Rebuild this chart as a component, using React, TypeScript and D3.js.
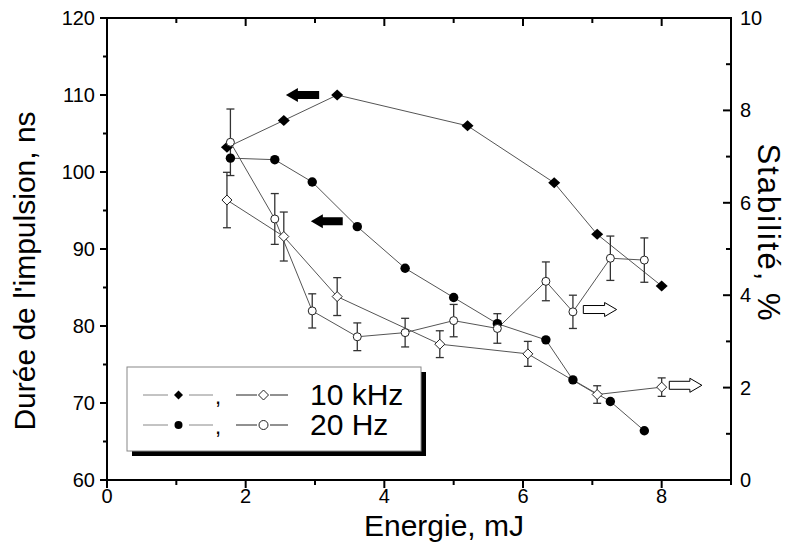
import React, { useEffect } from 'react';
import * as d3 from 'd3';

// 10 kHz series
const energy10k = [1.73, 2.55, 3.32, 5.2, 6.45, 7.07, 8.0];
const duration10k = [103.2, 106.7, 110.0, 106.0, 98.6, 91.9, 85.2];
const energy10kStab = [1.73, 2.55, 3.32, 4.8, 6.07, 7.07, 8.0];
const stability10k = [6.06, 5.27, 3.97, 2.94, 2.73, 1.85, 2.01];
const stability10kErr = [0.6, 0.53, 0.41, 0.29, 0.27, 0.19, 0.2];

// 20 Hz series
const energy20 = [1.78, 2.42, 2.96, 3.61, 4.3, 5.0, 5.63, 6.33, 6.72, 7.26, 7.75];
const duration20 = [101.8, 101.6, 98.7, 92.9, 87.5, 83.7, 80.3, 78.2, 73.0, 70.2, 66.4];
const stability20 = [7.31, 5.65, 3.66, 3.1, 3.19, 3.45, 3.28, 4.3, 3.64, 4.8, 4.76];
const stability20Err = [0.72, 0.55, 0.37, 0.3, 0.31, 0.35, 0.32, 0.42, 0.36, 0.48, 0.48];

// axes
const xTicks = [0, 1, 2, 3, 4, 5, 6, 7, 8, 9];
const xTickLabels = [0, 2, 4, 6, 8];
const leftTicks = [60, 65, 70, 75, 80, 85, 90, 95, 100, 105, 110, 115, 120];
const leftTickLabels = [60, 70, 80, 90, 100, 110, 120];
const rightTicks = [0, 1, 2, 3, 4, 5, 6, 7, 8, 9, 10];
const rightTickLabels = [0, 2, 4, 6, 8, 10];

// arrows telling which axis a curve belongs to: [x start, x end, y]
const arrowsLeft = [[2.58, 3.06, 110.0], [2.94, 3.4, 93.6]];
const arrowsRight = [[6.87, 7.35, 3.69], [8.11, 8.58, 2.05]];

const legendLabels = ['10 kHz', '20 Hz'];

const FONT = '"Liberation Sans", Arial, sans-serif';
const W = 790;
const H = 548;
const L = 107, R = 731, T = 18, B = 480;

const x = d3.scaleLinear().domain([0, 9]).range([L, R]);
const yL = d3.scaleLinear().domain([60, 120]).range([B, T]);
const yR = d3.scaleLinear().domain([0, 10]).range([B, T]);

const LINE = '#555';

function diamond(cx, cy, hw, hh) {
  return `M${cx},${cy - hh}L${cx + hw},${cy}L${cx},${cy + hh}L${cx - hw},${cy}Z`;
}

function arrowPath(tip, tail, cy, head = 12, hh = 7, bh = 4) {
  const d = tail > tip ? 1 : -1;
  const hx = tip + d * head;
  return `M${tip},${cy}L${hx},${cy - hh}L${hx},${cy - bh}L${tail},${cy - bh}L${tail},${cy + bh}L${hx},${cy + bh}L${hx},${cy + hh}Z`;
}

export default function App() {
  useEffect(() => {
    document.body.style.margin = '0';
  }, []);

  const line = d3.line<[number, number]>();
  const pts = (xs, ys, sy) => xs.map((v, i) => [x(v), sy(ys[i])] as [number, number]);

  const errBars = (xs, ys, es) =>
    xs.map((v, i) => {
      const cx = x(v);
      const y0 = yR(ys[i] - es[i]);
      const y1 = yR(ys[i] + es[i]);
      return (
        <g key={i} stroke="#333" strokeWidth={1.3}>
          <line x1={cx} x2={cx} y1={y0} y2={y1} />
          <line x1={cx - 4} x2={cx + 4} y1={y0} y2={y0} />
          <line x1={cx - 4} x2={cx + 4} y1={y1} y2={y1} />
        </g>
      );
    });

  const legendRows = [395, 425];

  return (
    <svg width={W} height={H} style={{ display: 'block' }} fontFamily={FONT}>
      <rect width={W} height={H} fill="#fff" />

      {/* lines */}
      <g fill="none" stroke={LINE} strokeWidth={1}>
        <path d={line(pts(energy10k, duration10k, yL))} />
        <path d={line(pts(energy20, duration20, yL))} />
        <path d={line(pts(energy10kStab, stability10k, yR))} />
        <path d={line(pts(energy20, stability20, yR))} />
      </g>

      {/* error bars */}
      {errBars(energy10kStab, stability10k, stability10kErr)}
      {errBars(energy20, stability20, stability20Err)}

      {/* markers */}
      {energy10k.map((v, i) => (
        <path key={'fd' + i} d={diamond(x(v), yL(duration10k[i]), 6, 5.5)} fill="#000" />
      ))}
      {energy20.map((v, i) => (
        <circle key={'fc' + i} cx={x(v)} cy={yL(duration20[i])} r={4.7} fill="#000" />
      ))}
      {energy10kStab.map((v, i) => (
        <path key={'od' + i} d={diamond(x(v), yR(stability10k[i]), 5, 5)} fill="#fff" stroke="#222" strokeWidth={1} />
      ))}
      {energy20.map((v, i) => (
        <circle key={'oc' + i} cx={x(v)} cy={yR(stability20[i])} r={4} fill="#fff" stroke="#222" strokeWidth={1} />
      ))}

      {/* arrows */}
      {arrowsLeft.map(([a, b, v], i) => (
        <path key={'al' + i} d={arrowPath(x(a), x(b), yL(v))} fill="#000" />
      ))}
      {arrowsRight.map(([a, b, v], i) => (
        <path key={'ar' + i} d={arrowPath(x(b), x(a), yR(v))} fill="#fff" stroke="#000" strokeWidth={1} />
      ))}

      {/* frame */}
      <rect x={L} y={T} width={R - L} height={B - T} fill="none" stroke="#000" strokeWidth={2} />

      {/* ticks: bottom and left outward, top and right inward */}
      <g stroke="#000" strokeWidth={2}>
        {xTicks.map((t) => {
          const major = xTickLabels.includes(t);
          return (
            <g key={'xt' + t}>
              <line x1={x(t)} x2={x(t)} y1={B} y2={B + (major ? 8 : 5)} />
              <line x1={x(t)} x2={x(t)} y1={T} y2={T + (major ? 8 : 5)} />
            </g>
          );
        })}
        {leftTicks.map((t) => (
          <line key={'lt' + t} x1={L - (leftTickLabels.includes(t) ? 7 : 4)} x2={L} y1={yL(t)} y2={yL(t)} />
        ))}
        {rightTicks.map((t) => (
          <line key={'rt' + t} x1={R - (rightTickLabels.includes(t) ? 8 : 5)} x2={R} y1={yR(t)} y2={yR(t)} />
        ))}
      </g>

      <g fontSize={20} fill="#000">
        {xTickLabels.map((t) => (
          <text key={'xl' + t} x={x(t)} y={503} textAnchor="middle">{t}</text>
        ))}
        {leftTickLabels.map((t) => (
          <text key={'ll' + t} x={95} y={yL(t) + 7} textAnchor="end">{t}</text>
        ))}
        {rightTickLabels.map((t) => (
          <text key={'rl' + t} x={740} y={yR(t) + 7} textAnchor="start">{t}</text>
        ))}
      </g>

      {/* axis titles */}
      <text x={444} y={536} fontSize={30} textAnchor="middle">Energie, mJ</text>
      <text transform={`translate(35,271) rotate(-90)`} fontSize={30} textAnchor="middle">
        Durée de l'impulsion, ns
      </text>
      <text transform={`translate(758,233) rotate(90)`} fontSize={31} letterSpacing={2} textAnchor="middle">
        Stabilité, %
      </text>

      {/* legend */}
      <rect x={132} y={372} width={294} height={84} fill="#000" />
      <rect x={127} y={367} width={294} height={84} fill="#fff" stroke="#888" strokeWidth={1} />
      {legendRows.map((ly, i) => (
        <g key={'lg' + i}>
          <line x1={143} x2={168} y1={ly} y2={ly} stroke="#888" strokeWidth={1} />
          <line x1={189} x2={213} y1={ly} y2={ly} stroke="#888" strokeWidth={1} />
          {i === 0 ? (
            <path d={diamond(178.5, ly, 4.5, 4.5)} fill="#000" />
          ) : (
            <circle cx={178.5} cy={ly} r={4} fill="#000" />
          )}
          <text x={215} y={ly + 9} fontSize={22}>,</text>
          <line x1={236} x2={257} y1={ly} y2={ly} stroke="#222" strokeWidth={1} />
          <line x1={270} x2={288} y1={ly} y2={ly} stroke="#222" strokeWidth={1} />
          {i === 0 ? (
            <path d={diamond(263.5, ly, 5, 5)} fill="#fff" stroke="#222" strokeWidth={1} />
          ) : (
            <circle cx={263.5} cy={ly} r={4.5} fill="#fff" stroke="#222" strokeWidth={1} />
          )}
          <text x={310} y={ly + 10} fontSize={30}>{legendLabels[i]}</text>
        </g>
      ))}
    </svg>
  );
}
